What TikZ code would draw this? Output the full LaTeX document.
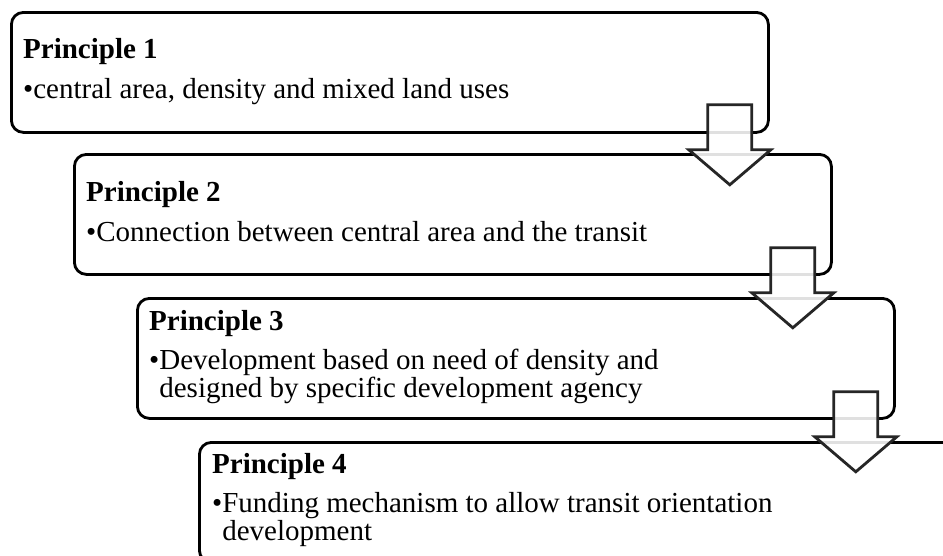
\documentclass[tikz,border=0pt]{standalone}
\usepackage{fontspec}
\setmainfont{Liberation Serif}
\usetikzlibrary{calc}
\definecolor{arrowgray}{HTML}{262626}
\tikzset{
  pbox/.style={draw=black, line width=2.8pt, rounded corners=12pt, fill=white,
    minimum width=757pt, minimum height=120pt, anchor=north west, inner sep=0pt},
  phead/.style={anchor=base west, inner sep=0pt, font=\fontsize{29}{29}\bfseries},
  ptext/.style={anchor=base west, inner sep=0pt, font=\fontsize{29}{29}\selectfont},
  blockarrow/.style={draw=arrowgray, line width=2.8pt, fill=white, fill opacity=0.88}
}
\begin{document}
\begin{tikzpicture}[x=1pt,y=-1pt]
\useasboundingbox (0,0) rectangle (943,555);
\clip (0,0) rectangle (943,555);

  \node[pbox] (p1) at (10,11) {};
  \node[phead] (h1) at ([shift={(13,47)}]p1.north west) {Principle 1};
  \node[ptext] (t1) at ([shift={(13,87)}]p1.north west) {•central area, density and mixed land uses};

  \node[pbox] (p2) at (73,153) {};
  \node[phead] (h2) at ([shift={(13,48)}]p2.north west) {Principle 2};
  \node[ptext] (t2) at ([shift={(13,88)}]p2.north west) {•Connection between central area and the transit};

  \node[pbox] (p3) at (136,297) {};
  \node[phead] (h3) at ([shift={(13,33)}]p3.north west) {Principle 3};
  \node[ptext] (t3) at ([shift={(13,72)}]p3.north west) {•Development based on need of density and};
  \node[ptext] (u3) at ([shift={(13,100)}]p3.north west) {\phantom{•}designed by specific development agency};

  \node[pbox] (p4) at (198,441) {};
  \node[phead] (h4) at ([shift={(14,32)}]p4.north west) {Principle 4};
  \node[ptext] (t4) at ([shift={(14,71)}]p4.north west) {•Funding mechanism to allow transit orientation};
  \node[ptext] (u4) at ([shift={(14,99)}]p4.north west) {\phantom{•}development};

  \draw[blockarrow] ($(p1.south east)+(-62,-29)$) -- ++(0,45) -- ++(-19,0) -- ++(41,35) -- ++(41,-35) -- ++(-19,0) -- ++(0,-45) -- cycle;
  \draw[blockarrow] ($(p2.south east)+(-62,-28)$) -- ++(0,45) -- ++(-19,0) -- ++(41,35) -- ++(41,-35) -- ++(-19,0) -- ++(0,-45) -- cycle;
  \draw[blockarrow] ($(p3.south east)+(-62,-28)$) -- ++(0,45) -- ++(-19,0) -- ++(41,35) -- ++(41,-35) -- ++(-19,0) -- ++(0,-45) -- cycle;

\end{tikzpicture}
\end{document}
